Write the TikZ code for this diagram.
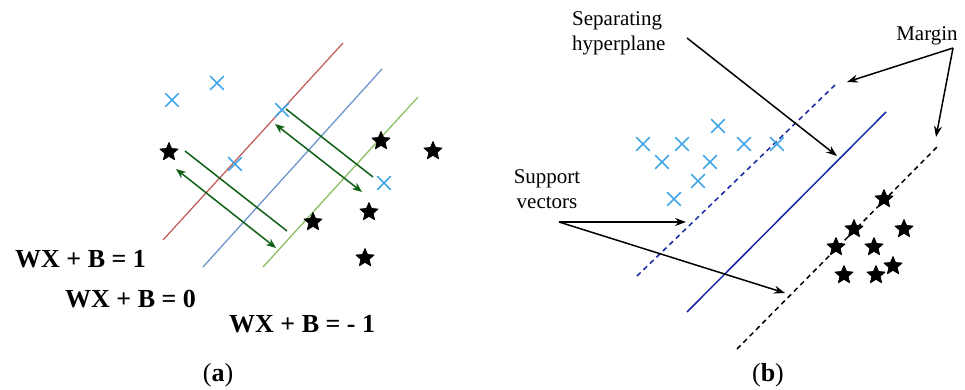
\documentclass[tikz,border=0pt]{standalone}
\usepackage{fontspec}
\setmainfont{Liberation Serif}
\usetikzlibrary{arrows.meta,shapes.geometric,shapes.misc}
\definecolor{redline}{RGB}{196,96,96}
\definecolor{blueline}{RGB}{110,150,205}
\definecolor{greenline}{RGB}{140,190,100}
\definecolor{darkgr}{RGB}{15,95,20}
\definecolor{xblue}{RGB}{65,165,230}
\definecolor{navy}{RGB}{25,40,165}
\begin{document}
\begin{tikzpicture}[x=1pt,y=-1pt,
  xm/.style={cross out, draw=xblue, line width=1.6pt, minimum size=12pt, inner sep=0pt},
  st/.style={star, star points=5, star point ratio=2.2, fill=black, draw=black, line width=0.8pt, line join=round, minimum size=19pt, inner sep=0pt},
  eqlabel/.style={font=\fontsize{26}{30}\selectfont\bfseries, anchor=base west, inner sep=0pt},
  txt/.style={font=\fontsize{21}{25}\selectfont, inner sep=0pt},
  captxt/.style={font=\fontsize{26}{30}\selectfont, anchor=base, inner sep=0pt},
  garrow/.style={darkgr, line width=1.5pt, {Stealth[length=10pt,width=8pt]}-{Stealth[length=10pt,width=8pt]}},
  gline/.style={darkgr, line width=1.5pt},
  barrow/.style={black, line width=1.5pt, -{Stealth[length=11pt,width=8pt]}},
]
\useasboundingbox (0,0) rectangle (965,390);

% ---------------- (a) ----------------
\draw[redline, line width=1.3pt] (163,240) -- (343,43);
\draw[blueline, line width=1.3pt] (203,267) -- (382,69);
\draw[greenline, line width=1.3pt] (263,267) -- (418,97);

\node[xm] (ax1) at (172,100) {};
\node[xm] (ax2) at (217,83) {};
\node[xm] (ax3) at (282,110) {};
\node[xm] (ax4) at (235,164) {};
\node[xm] (ax5) at (384,183) {};

\node[st] (as1) at (169,152) {};
\node[st] (as2) at (381,141) {};
\node[st] (as3) at (433,151) {};
\node[st] (as4) at (369,212) {};
\node[st] (as5) at (313,222) {};
\node[st] (as6) at (365,258) {};

\coordinate (g1a) at (185,151);
\coordinate (g1b) at (287,231);
\coordinate (g2a) at (176,169);
\coordinate (g2b) at (276,248);
\coordinate (g3a) at (286,109);
\coordinate (g3b) at (373,177);
\coordinate (g4a) at (275,124);
\coordinate (g4b) at (362,192);
\draw[gline] (g1a) -- (g1b);
\draw[garrow] (g2a) -- (g2b);
\draw[gline] (g3a) -- (g3b);
\draw[garrow] (g4a) -- (g4b);

\node[eqlabel] (eq1) at (15,267) {WX + B = 1};
\node[eqlabel] (eq0) at (65,307) {WX + B = 0};
\node[eqlabel] (eqm) at (229,332) {WX + B = - 1};

\node[captxt] (capa) at (218,381) {(\textbf{a})};

% ---------------- (b) ----------------
\draw[navy, line width=1.5pt, dash pattern=on 5pt off 4pt] (637,276) -- (835,85);
\draw[navy, line width=1.5pt] (687,312) -- (886,112);
\draw[black, line width=1.5pt, dash pattern=on 5pt off 4pt] (737,349) -- (937,147);

\node[xm] (bx1) at (643,144) {};
\node[xm] (bx2) at (682,144) {};
\node[xm] (bx3) at (718,126) {};
\node[xm] (bx4) at (744,144) {};
\node[xm] (bx5) at (777,144) {};
\node[xm] (bx6) at (662,162) {};
\node[xm] (bx7) at (710,162) {};
\node[xm] (bx8) at (698,181) {};
\node[xm] (bx9) at (674,199) {};

\node[st] (bs1) at (884,199) {};
\node[st] (bs2) at (854,229) {};
\node[st] (bs3) at (904,229) {};
\node[st] (bs4) at (836,247) {};
\node[st] (bs5) at (874,247) {};
\node[st] (bs6) at (893,266) {};
\node[st] (bs7) at (844,275) {};
\node[st] (bs8) at (876,275) {};

\node[txt, anchor=north west, align=left] (sep) at (572,11) {Separating\\hyperplane};
\node[txt, anchor=base] (marg) at (927,41) {Margin};
\node[txt, anchor=north, align=center] (sv) at (547,169) {Support\\vectors};

\coordinate (sepS) at (687,38);
\coordinate (sepE) at (837,156);
\coordinate (mS) at (953,48);
\coordinate (mE1) at (847,82);
\coordinate (mE2) at (936,137);
\coordinate (svS) at (559,222);
\coordinate (svE1) at (686,222);
\coordinate (svE2) at (785,293);

\draw[barrow] (sepS) -- (sepE);
\draw[barrow] (mS) -- (mE1);
\draw[barrow] (mS) -- (mE2);
\draw[barrow] (svS) -- (svE1);
\draw[barrow] (svS) -- (svE2);

\node[captxt] (capb) at (768,381) {(\textbf{b})};
\end{tikzpicture}
\end{document}
